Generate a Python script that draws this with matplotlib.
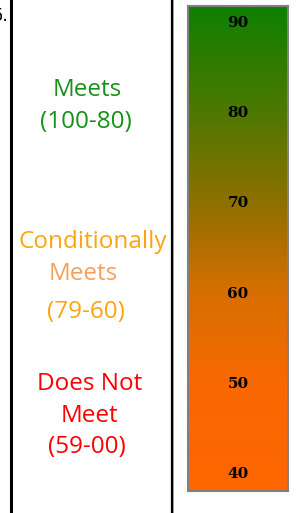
import matplotlib
matplotlib.use("Agg")
import matplotlib.pyplot as plt
import numpy as np
from matplotlib.colors import LinearSegmentedColormap
from matplotlib.lines import Line2D

# scale bar data
tickValues = [90, 80, 70, 60, 50, 40]
barTop = 91.9
barBottom = 38.1
stopValues = [38.1, 50, 60, 70, 80, 91.9]
stopColors = ['#ff6600', '#f96800', '#d86f00', '#8f7000', '#4e7800', '#0f8000']

# category labels on the left: text, colour, centre x, baseline y (pixels)
labelLines = [
    ("Meets", '#18901a', 87, 96),
    ("(100-80)", '#18901a', 86, 128),
    ("Conditionally", '#ffa40f', 93, 248),
    ("Meets", '#f6a05a', 83, 280),
    ("(79-60)", '#ffa40f', 86, 318),
    ("Does Not", '#ff0000', 90, 390),
    ("Meet", '#ff0000', 89, 422),
    ("(59-00)", '#ff0000', 87, 453),
]

W, H = 297, 513
fig = plt.figure(figsize=(W / 100, H / 100), dpi=100)

# separating rules
fig.add_artist(Line2D([11 / W, 11 / W], [0, 1], color='black', lw=2.2))
fig.add_artist(Line2D([172 / W, 172 / W], [0, 1], color='black', lw=1.6))
fig.add_artist(Line2D([173.5 / W, 173.5 / W], [0, 1], color='#999999', lw=0.7))

fig.text(8 / W, 1 - 21 / H, "5.", ha='right', va='baseline', fontsize=12, color='black')

for txt, col, x, y in labelLines:
    fig.text(x / W, 1 - y / H, txt, ha='center', va='baseline', color=col,
             fontsize=17.5, family='Open Sans')

# gradient bar
ax = fig.add_axes([188 / W, 1 - 491 / H, 100 / W, 485 / H])
pos = [(v - barBottom) / (barTop - barBottom) for v in stopValues]
cmap = LinearSegmentedColormap.from_list('scale', list(zip(pos, stopColors)))
grad = np.linspace(barBottom, barTop, 400).reshape(-1, 1)
ax.imshow(grad, cmap=cmap, aspect='auto', origin='lower',
          extent=[0, 1, barBottom, barTop], vmin=barBottom, vmax=barTop)
ax.set_xlim(0, 1)
ax.set_ylim(barBottom, barTop)
ax.set_xticks([])
ax.set_yticks([])
for s in ax.spines.values():
    s.set_color('#808080')
    s.set_linewidth(1.5)
for v in tickValues:
    ax.text(0.5, v, str(v), ha='center', va='center', fontsize=11,
            fontweight='bold', family='DejaVu Serif', color='black')

fig.savefig('out.png', dpi=100)
